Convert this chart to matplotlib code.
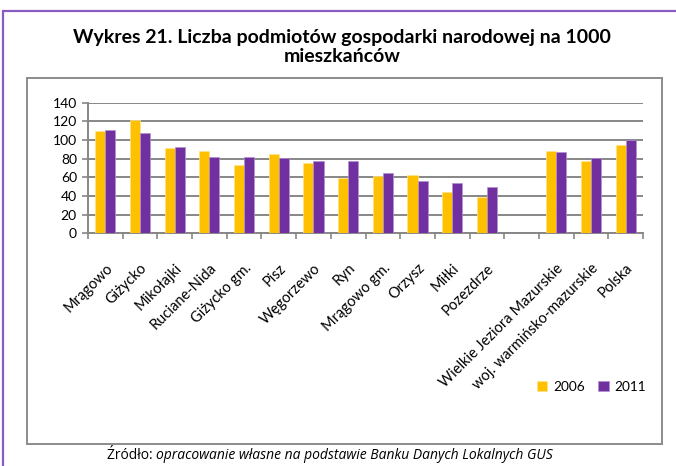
import numpy as np
import matplotlib.pyplot as plt
from matplotlib.patches import Rectangle

plt.rcParams['font.family'] = ['Lato', 'DejaVu Sans']

categories = ['Mrągowo', 'Giżycko', 'Mikołajki', 'Ruciane-Nida', 'Giżycko gm.',
              'Pisz', 'Węgorzewo', 'Ryn', 'Mrągowo gm.', 'Orzysz', 'Miłki',
              'Pozezdrze', '', 'Wielkie Jeziora Mazurskie',
              'woj. warmińsko-mazurskie', 'Polska']
v2006 = [110, 121, 91, 88, 73, 85, 75, 59, 61, 62, 44, 39, np.nan, 88, 78, 95]
v2011 = [111, 108, 92, 82, 82, 81, 78, 77, 65, 56, 54, 50, np.nan, 87, 81, 100]
years = ['2006', '2011']
yticks = [0, 20, 40, 60, 80, 100, 120, 140]

c2006 = '#FFC000'
c2011 = '#7030A0'
grid_c = '#878787'

fig = plt.figure(figsize=(6.76, 4.66), dpi=100)

# outer frames
fig.add_artist(Rectangle((3 / 676, -0.05), 1.1, 1 - 11 / 466 + 0.05,
                         transform=fig.transFigure, fill=False,
                         edgecolor='#8A5CC2', lw=1.6))
fig.add_artist(Rectangle((27 / 676, 1 - 444 / 466), (662 - 27) / 676, (444 - 78) / 466,
                         transform=fig.transFigure, fill=False,
                         edgecolor='#8C8C8C', lw=1.4))

ax = fig.add_axes([88 / 676, 1 - 233.3 / 466, (643 - 88) / 676, (233.3 - 102.7) / 466])

x = np.arange(len(categories))
w = 0.29
ax.bar(x - w / 2, v2006, w, color=c2006, edgecolor='#FFE38A', lw=0.5, label=years[0], zorder=3)
ax.bar(x + w / 2, v2011, w, color=c2011, edgecolor='#B48FD0', lw=0.5, label=years[1], zorder=3)

ax.set_xlim(-0.5, len(categories) - 0.5)
ax.set_ylim(0, 140)
ax.set_yticks(yticks)
ax.yaxis.grid(True, color=grid_c, lw=1.4, zorder=0)
ax.set_axisbelow(True)

for s in ['top', 'right']:
    ax.spines[s].set_visible(False)
for s in ['left', 'bottom']:
    ax.spines[s].set_color(grid_c)
    ax.spines[s].set_linewidth(1.4)

ax.tick_params(axis='y', length=4, width=1.2, color=grid_c, labelsize=10, pad=4,
               labelcolor='black')
ax.set_xticks(x)
ax.set_xticklabels(categories, rotation=45, ha='right', rotation_mode='anchor',
                   fontsize=10.5)
ax.tick_params(axis='x', which='major', length=0, pad=20)
ax.set_xticks(np.arange(len(categories) + 1) - 0.5, minor=True)
ax.tick_params(axis='x', which='minor', length=4, width=1.2, color=grid_c)

fig.legend(loc='center left', bbox_to_anchor=(527 / 676, 1 - 387 / 466), ncol=2,
           frameon=False, fontsize=9.8, handlelength=0.8, handleheight=0.8,
           handletextpad=0.4, columnspacing=1.0, borderpad=0.2)

fig.text(342 / 676, 1 - 47 / 466,
         'Wykres 21. Liczba podmiotów gospodarki narodowej na 1000\nmieszkańców',
         ha='center', va='center', fontsize=14, fontweight='bold', linespacing=1.2)

t1 = fig.text(107 / 676, 1 - 459 / 466, 'Źródło: ', ha='left', va='baseline',
              fontsize=10, family=['Open Sans', 'DejaVu Sans'])
ax.annotate('opracowanie własne na podstawie Banku Danych Lokalnych GUS',
            xy=(1, 0), xycoords=t1, fontsize=10, style='italic',
            family=['Open Sans', 'DejaVu Sans'],
            ha='left', va='bottom', annotation_clip=False)

fig.savefig('out.png', dpi=100)
